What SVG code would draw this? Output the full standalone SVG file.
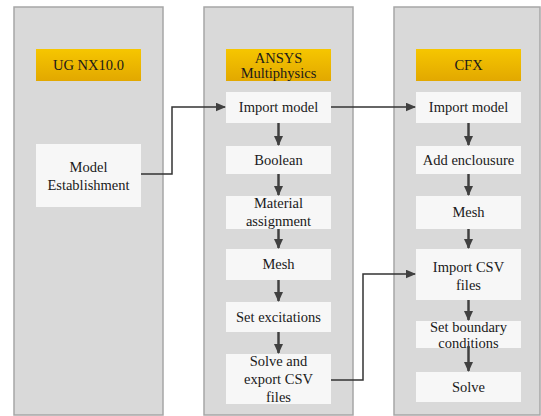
<svg xmlns="http://www.w3.org/2000/svg" width="541" height="416" viewBox="0 0 541 416">
<defs>
<linearGradient id="yg" x1="0" y1="0" x2="0" y2="1">
<stop offset="0" stop-color="#f6c600"/>
<stop offset="1" stop-color="#e2a800"/>
</linearGradient>
<marker id="ah" viewBox="0 0 10 10" refX="9" refY="5" markerWidth="4" markerHeight="3.6" orient="auto" markerUnits="strokeWidth" preserveAspectRatio="none">
<path d="M0,0 L10,5 L0,10 z" fill="#404040"/>
</marker>
<marker id="ah2" viewBox="0 0 10 10" refX="9" refY="5" markerWidth="7" markerHeight="6" orient="auto" markerUnits="strokeWidth" preserveAspectRatio="none">
<path d="M0,0 L10,5 L0,10 z" fill="#404040"/>
</marker>
</defs>
<style>
.col{fill:#d9d9d9;stroke:#a6a6a6;stroke-width:1.5}
.hd{fill:url(#yg)}
.bx{fill:#f7f7f7}
.t{font-family:'Liberation Serif','DejaVu Serif','Times New Roman',serif;font-size:14.5px;fill:#1a1a1a;text-anchor:middle}
.v{stroke:#404040;stroke-width:2.5;fill:none;marker-end:url(#ah)}
.c{stroke:#333;stroke-width:1.5;fill:none;marker-end:url(#ah2)}
</style>
<rect class="col" x="14" y="7" width="149" height="408"/>
<rect class="col" x="204" y="7" width="149" height="408"/>
<rect class="col" x="394" y="7" width="146" height="408"/>

<g class="t" font-family="Liberation Serif, DejaVu Serif, serif">
<g id="ug"><rect class="hd" x="36" y="49" width="105" height="32"/><text x="88.5" y="70">UG NX10.0</text></g>
<g id="model"><rect class="bx" x="36" y="144" width="105" height="63"/><text x="88.5" y="172">Model</text><text x="88.5" y="190">Establishment</text></g>

<g id="ansys"><rect class="hd" x="226" y="49" width="105" height="32"/><text x="278.5" y="63">ANSYS</text><text x="278.5" y="78">Multiphysics</text></g>
<g id="a_import"><rect class="bx" x="226" y="92" width="105" height="31"/><text x="278.5" y="112">Import model</text></g>
<g id="a_bool"><rect class="bx" x="226" y="146" width="105" height="28"/><text x="278.5" y="165">Boolean</text></g>
<g id="a_mat"><rect class="bx" x="226" y="196" width="105" height="33"/><text x="278.5" y="208">Material</text><text x="278.5" y="226">assignment</text></g>
<g id="a_mesh"><rect class="bx" x="226" y="249" width="105" height="31"/><text x="278.5" y="269">Mesh</text></g>
<g id="a_exc"><rect class="bx" x="226" y="302" width="105" height="30"/><text x="278.5" y="322">Set excitations</text></g>
<g id="a_solve"><rect class="bx" x="226" y="354" width="105" height="50"/><text x="278.5" y="366">Solve and</text><text x="278.5" y="384">export CSV</text><text x="278.5" y="402">files</text></g>

<g id="cfx"><rect class="hd" x="416" y="49" width="105" height="32"/><text x="468.5" y="70">CFX</text></g>
<g id="c_import"><rect class="bx" x="416" y="92" width="105" height="31"/><text x="468.5" y="112">Import model</text></g>
<g id="c_encl"><rect class="bx" x="416" y="146" width="105" height="28"/><text x="468.5" y="165">Add enclousure</text></g>
<g id="c_mesh"><rect class="bx" x="416" y="196" width="105" height="33"/><text x="468.5" y="217">Mesh</text></g>
<g id="c_csv"><rect class="bx" x="416" y="249" width="105" height="51"/><text x="468.5" y="272">Import CSV</text><text x="468.5" y="290">files</text></g>
<g id="c_bc"><rect class="bx" x="416" y="321" width="105" height="27"/><text x="468.5" y="332">Set boundary</text><text x="468.5" y="348">conditions</text></g>
<g id="c_solve"><rect class="bx" x="416" y="372" width="105" height="30"/><text x="468.5" y="392">Solve</text></g>
</g>

<g id="connectors">
<path class="v" d="M278.5,123 V145"/>
<path class="v" d="M278.5,174 V195"/>
<path class="v" d="M278.5,229 V248"/>
<path class="v" d="M278.5,280 V301"/>
<path class="v" d="M278.5,332 V353"/>
<path class="v" d="M468.5,123 V145"/>
<path class="v" d="M468.5,174 V195"/>
<path class="v" d="M468.5,229 V248"/>
<path class="v" d="M468.5,300 V320"/>
<path class="v" d="M468.5,346 V371"/>
<path class="c" d="M141,174 H172 V107 H225"/>
<path class="c" d="M331,107 H415"/>
<path class="c" d="M331,380 H363 V274 H415"/>
</g>
</svg>
